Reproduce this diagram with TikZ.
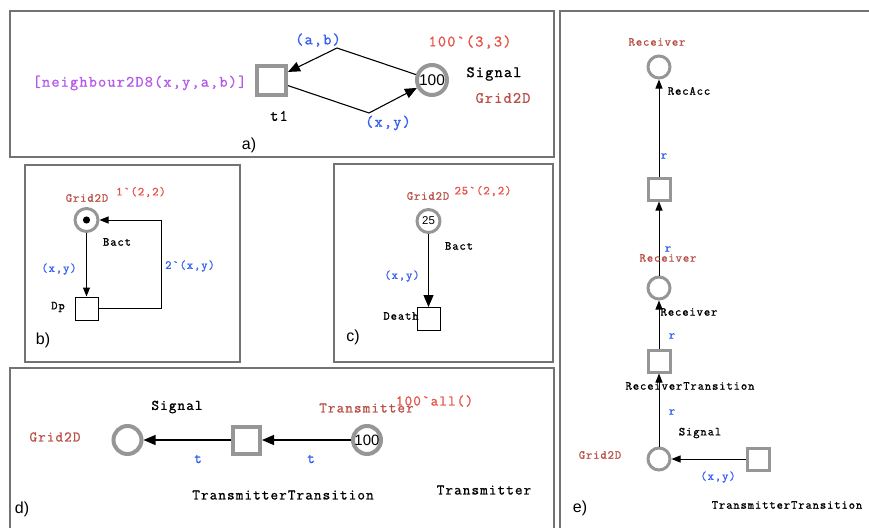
\documentclass[tikz,border=0pt]{standalone}
\usepackage{fontspec}
\setmainfont{Liberation Sans}
\newfontfamily\cour{Latin Modern Mono}[Ligatures=TeXOff, LetterSpace=7.6, FakeBold=1.2]
\usetikzlibrary{arrows.meta}
\definecolor{insc}{RGB}{50,95,240}
\definecolor{mark}{RGB}{232,78,68}
\definecolor{cset}{RGB}{185,80,72}
\definecolor{guard}{RGB}{180,90,235}
\definecolor{nodegray}{RGB}{150,150,150}
\definecolor{framec}{RGB}{115,115,115}
\tikzset{
  panel/.style={draw=framec, line width=1.2pt},
  lblA/.style={font=\cour\fontsize{15.8}{18}\selectfont, inner sep=0pt},
  lblD/.style={font=\cour\fontsize{14.7}{17}\selectfont, inner sep=0pt},
  lblS/.style={font=\cour\fontsize{12.2}{14}\selectfont, inner sep=0pt},
  tag/.style={font=\fontsize{16}{18}\selectfont, inner sep=0pt},
  placeA/.style={circle, draw=nodegray, line width=4pt, minimum size=30pt, inner sep=0pt, font=\fontsize{15.5}{17}\selectfont},
  transA/.style={rectangle, draw=nodegray, line width=4pt, minimum size=29pt, inner sep=0pt},
  placeD/.style={circle, draw=nodegray, line width=4pt, minimum size=28pt, inner sep=0pt, font=\fontsize{15}{17}\selectfont},
  transD/.style={rectangle, draw=nodegray, line width=4pt, minimum size=27pt, inner sep=0pt},
  placeS/.style={circle, draw=nodegray, line width=3pt, minimum size=23pt, inner sep=0pt, font=\fontsize{11.4}{13}\selectfont},
  transS/.style={rectangle, draw=black, line width=1pt, minimum size=23pt, inner sep=0pt},
  placeE/.style={circle, draw=nodegray, line width=3pt, minimum size=22pt, inner sep=0pt},
  transE/.style={rectangle, draw=nodegray, line width=3pt, minimum size=22pt, inner sep=0pt},
  arc/.style={draw=black, line width=1.1pt, -{Triangle[length=12pt,width=10pt]}},
  arcs/.style={draw=black, line width=1pt, -{Triangle[length=9pt,width=7pt]}},
}
\begin{document}
\begin{tikzpicture}[x=1pt,y=-1pt]
\useasboundingbox (0,0) rectangle (869,527);
% frames
\draw[panel] (10,11) rectangle (554,157);
\draw[panel] (25,165) rectangle (240,362);
\draw[panel] (334,164) rectangle (553,362);
\draw[panel] (10,368) rectangle (554,540);
\draw[panel] (560,11) rectangle (880,540);

% ---------- panel a ----------
\node[transA] (at1) at (271.5,80) {};
\node[placeA] (a100) at (432,80) {100};
\coordinate (av1) at (337,48);
\coordinate (av2) at (369,113);
\draw[arc] (a100) -- (av1) -- (at1);
\draw[arc] (at1) -- (av2) -- (a100);
\node[lblA, text=guard] (aguard) at (139.5,83) {[neighbour2D8(x,y,a,b)]};
\node[lblA, text=insc] (aab) at (318,40) {(a,b)};
\node[lblA, text=insc] (axy) at (388,123) {(x,y)};
\node[lblA] (at1l) at (279,116) {t1};
\node[lblA, text=mark] (amark) at (470,42) {100`(3,3)};
\node[lblA] (asig) at (494,74) {Signal};
\node[lblA, text=cset] (agrid) at (503,98) {Grid2D};
\node[tag] (atag) at (249,145) {a)};

% ---------- panel b ----------
\node[placeS] (bP) at (86.5,220) {};
\fill (bP.center) circle (3.6pt);
\node[transS] (bDp) at (86.5,308.5) {};
\coordinate (bc) at (161,220);
\draw[arcs] (bP) -- (bDp);
\draw[arcs] (bDp.east) -| (bc) -- (bP);
\node[lblS, text=cset] (bgrid) at (87,198) {Grid2D};
\node[lblS, text=mark] (bmark) at (141,192) {1`(2,2)};
\node[lblS] (bbact) at (117,242) {Bact};
\node[lblS, text=insc] (bxy) at (59,269) {(x,y)};
\node[lblS, text=insc] (b2xy) at (190,266) {2`(x,y)};
\node[lblS] (bdpl) at (58,307) {Dp};
\node[tag] (btag) at (43,340) {b)};

% ---------- panel c ----------
\node[placeS] (cP) at (428.5,221) {25};
\node[transS] (cT) at (428.5,319) {};
\draw[arc] (cP) -- (cT);
\node[lblS, text=cset] (cgrid) at (428,196) {Grid2D};
\node[lblS, text=mark] (cmark) at (483,191) {25`(2,2)};
\node[lblS] (cbact) at (459,246) {Bact};
\node[lblS, text=insc] (cxy) at (402,276) {(x,y)};
\node[lblS] (cdeath) at (401,316) {Death};
\node[tag] (ctag) at (353,337) {c)};

% ---------- panel d ----------
\node[placeD] (dS) at (127.5,440) {};
\node[transD] (dT) at (246.5,440) {};
\node[placeD] (dP) at (367,440) {100};
\draw[arc] (dP) -- (dT);
\draw[arc] (dT) -- (dS);
\node[lblD] (dsig) at (177,407) {Signal};
\node[lblD, text=cset] (dgrid) at (55,437) {Grid2D};
\node[lblD, text=insc] (dt1) at (198,459) {t};
\node[lblD, text=insc] (dt2) at (311,459) {t};
\node[lblD] (dtt) at (283,495) {TransmitterTransition};
\node[lblD, text=cset] (dtr) at (366.5,408) {Transmitter};
\node[lblD, text=mark] (dmark) at (434.5,401) {100`all()};
\node[lblD] (dtrb) at (484,490) {Transmitter};
\node[tag] (dtag) at (22,509) {d)};

% ---------- panel e ----------
\node[placeE] (eR1) at (659,67) {};
\node[transE] (eT1) at (659,189) {};
\node[placeE] (eR2) at (659,288) {};
\node[transE] (eT2) at (659,361) {};
\node[placeE] (eG) at (659,459) {};
\node[transE] (eTT) at (758,459) {};
\draw[arcs] (eT1) -- (eR1);
\draw[arcs] (eR2) -- (eT1);
\draw[arcs] (eT2) -- (eR2);
\draw[arcs] (eG) -- (eT2);
\draw[arcs] (eTT) -- (eG);
\node[lblS, text=cset, font=\cour\bfseries\fontsize{12.2}{14}\selectfont] (erec1) at (657,42) {Receiver};
\node[lblS] (erecacc) at (689,91) {RecAcc};
\node[lblS, text=insc] (er1) at (664,156) {r};
\node[lblS, text=insc] (er2) at (668,249) {r};
\node[lblS, text=cset] (erec2) at (668,258) {Receiver};
\node[lblS] (erec3) at (689,312) {Receiver};
\node[lblS, text=insc] (er3) at (672,336) {r};
\node[lblS] (ertr) at (690,386) {ReceiverTransition};
\node[lblS, text=insc] (er4) at (672,412) {r};
\node[lblS] (esig) at (700,433) {Signal};
\node[lblS, text=cset] (egrid) at (600,455) {Grid2D};
\node[lblS, text=insc] (exy) at (718,477) {(x,y)};
\node[lblS] (ett) at (787,505) {TransmitterTransition};
\node[tag] (etag) at (580,508) {e)};
\end{tikzpicture}
\end{document}
